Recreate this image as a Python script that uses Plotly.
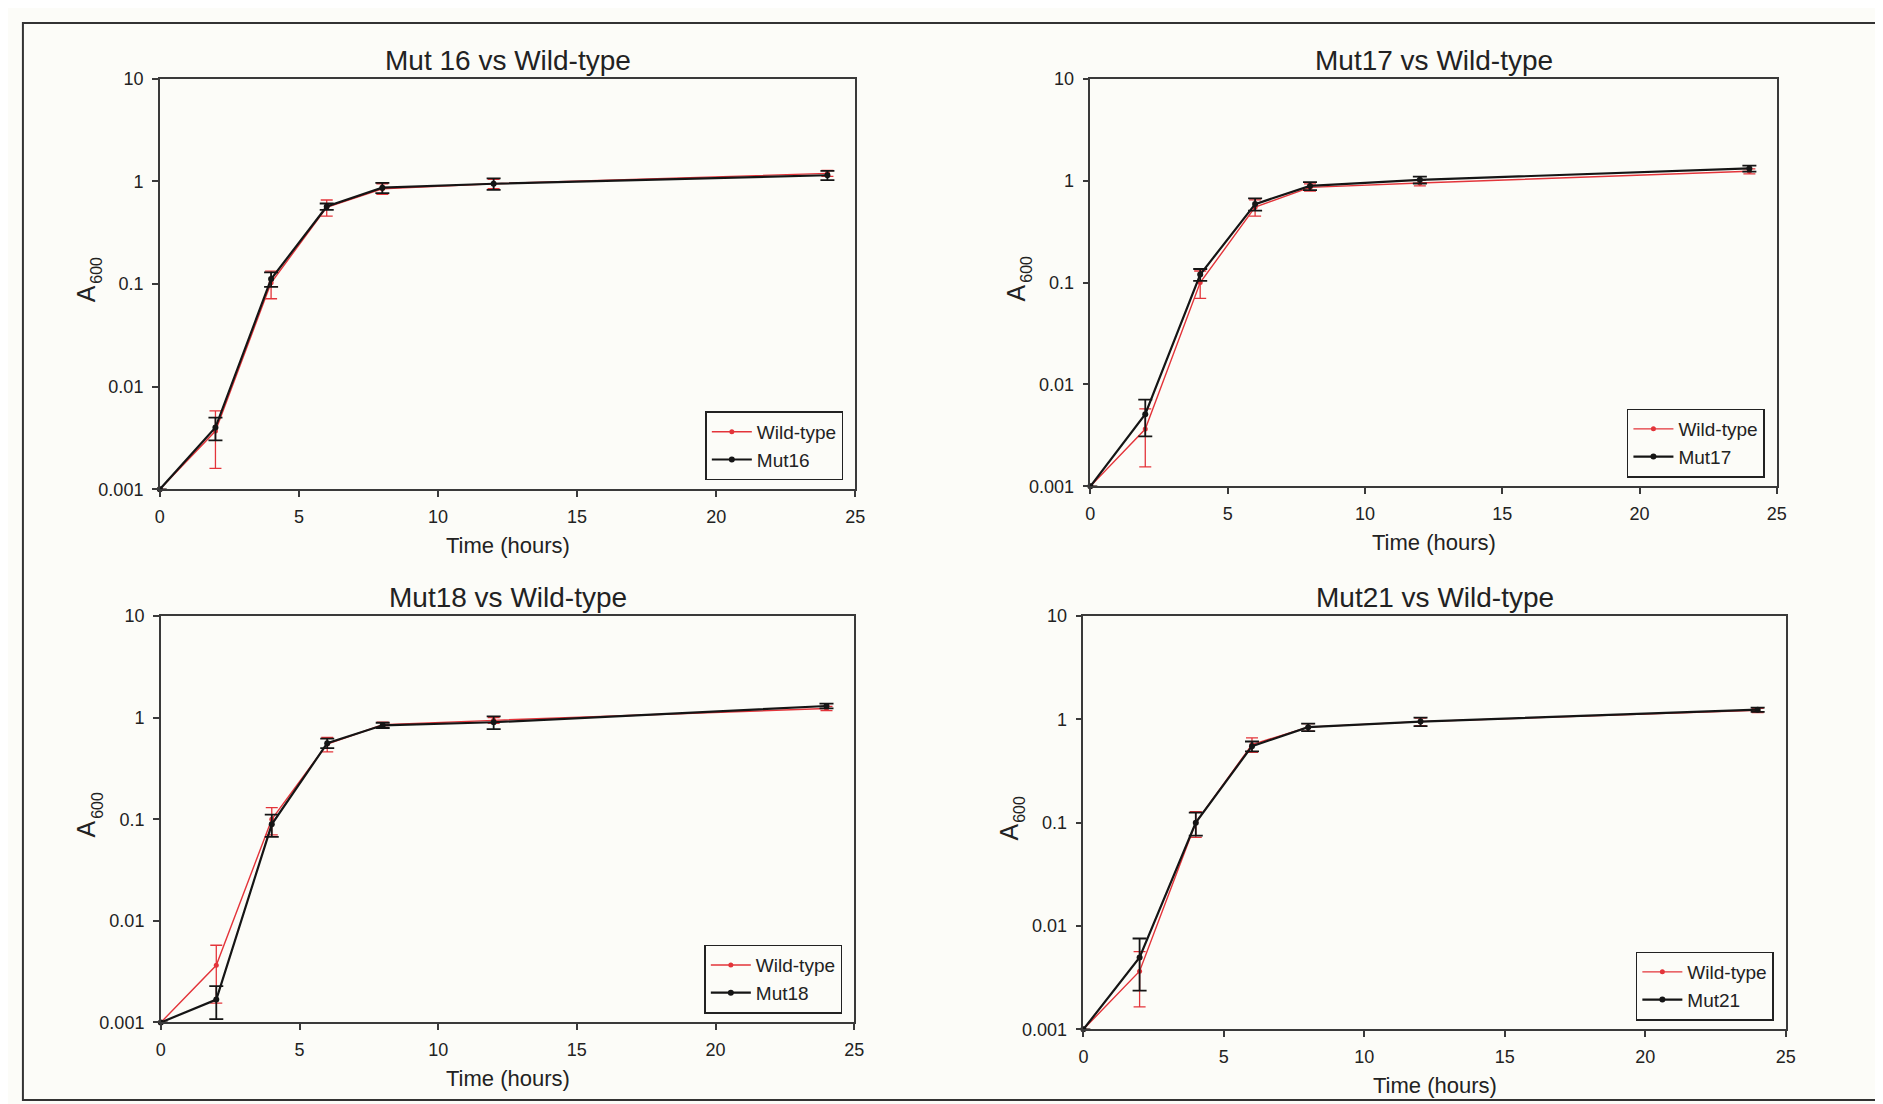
import plotly.graph_objects as go

# ---------------- data ----------------
time_h = [0, 2, 4, 6, 8, 12, 24]

wt16 = [0.001, 0.0037, 0.103, 0.56, 0.85, 0.95, 1.20]
wt16_err = [0, 0.0021, 0.031, 0.10, 0.10, 0.10, 0.08]
mut16 = [0.001, 0.0040, 0.112, 0.57, 0.87, 0.95, 1.15]
mut16_err = [0, 0.0010, 0.018, 0.04, 0.10, 0.12, 0.12]

wt17 = [0.001, 0.00365, 0.100, 0.55, 0.86, 0.95, 1.24]
wt17_err = [0, 0.0021, 0.030, 0.10, 0.07, 0.06, 0.07]
mut17 = [0.001, 0.0051, 0.120, 0.59, 0.89, 1.02, 1.32]
mut17_err = [0, 0.0020, 0.016, 0.08, 0.08, 0.08, 0.09]

wt18 = [0.001, 0.00365, 0.100, 0.55, 0.85, 0.94, 1.23]
wt18_err = [0, 0.0021, 0.030, 0.09, 0.05, 0.06, 0.06]
mut18 = [0.001, 0.00168, 0.089, 0.56, 0.84, 0.90, 1.30]
mut18_err = [0, 0.0006, 0.022, 0.06, 0.05, 0.13, 0.07]

wt21 = [0.001, 0.00365, 0.100, 0.57, 0.84, 0.95, 1.22]
wt21_err = [0, 0.0020, 0.028, 0.09, 0.07, 0.08, 0.06]
mut21 = [0.001, 0.00497, 0.100, 0.55, 0.84, 0.95, 1.24]
mut21_err = [0, 0.0026, 0.025, 0.06, 0.07, 0.09, 0.06]

titles = ["Mut 16 vs Wild-type", "Mut17 vs Wild-type", "Mut18 vs Wild-type", "Mut21 vs Wild-type"]
mut_names = ["Mut16", "Mut17", "Mut18", "Mut21"]
wt_name = "Wild-type"
y_tickvals = [0.001, 0.01, 0.1, 1, 10]
y_ticktext = ["0.001", "0.01", "0.1", "1", "10"]
x_tickvals = [0, 5, 10, 15, 20, 25]

panels = [
    (wt16, wt16_err, mut16, mut16_err),
    (wt17, wt17_err, mut17, mut17_err),
    (wt18, wt18_err, mut18, mut18_err),
    (wt21, wt21_err, mut21, mut21_err),
]

# ---------------- layout geometry (pixels) ----------------
W, H = 1883, 1104
# (left, right, top, bottom) of each plot area in pixels
boxes = [
    (148, 849, 62, 480),
    (1086, 1778, 62, 477),
    (149, 848, 609, 1023),
    (1079, 1787, 609, 1030),
]

RED = "#e3343a"
BLACK = "#151515"
AXC = "#3a3a3a"
BG = "#fcfcf8"
TXT = "#222222"
FONT = "Liberation Sans, Arial, sans-serif"

fig = go.Figure()
layout = dict(
    width=W, height=H,
    margin=dict(l=0, r=0, t=0, b=0),
    paper_bgcolor=BG, plot_bgcolor=BG,
    font=dict(family=FONT, color=TXT, size=18),
    showlegend=True,
)
annotations = []
shapes = []

for i, ((wt, wte, mu, mue), box) in enumerate(zip(panels, boxes)):
    n = i + 1
    xa = "x" if n == 1 else f"x{n}"
    ya = "y" if n == 1 else f"y{n}"
    lg = "legend" if n == 1 else f"legend{n}"
    l, r, t, b = box
    xd = [l / W, r / W]
    yd = [1 - b / H, 1 - t / H]

    fig.add_trace(go.Scatter(
        x=time_h, y=wt, name=wt_name, mode="lines+markers",
        line=dict(color=RED, width=1.4),
        marker=dict(color=RED, size=5),
        error_y=dict(type="data", array=wte, visible=True, color=RED, thickness=1.3, width=6),
        xaxis=xa, yaxis=ya, legend=lg, cliponaxis=False,
    ))
    fig.add_trace(go.Scatter(
        x=time_h, y=mu, name=mut_names[i], mode="lines+markers",
        line=dict(color=BLACK, width=2.2),
        marker=dict(color=BLACK, size=6),
        error_y=dict(type="data", array=mue, visible=True, color=BLACK, thickness=1.8, width=7),
        xaxis=xa, yaxis=ya, legend=lg, cliponaxis=False,
    ))

    xkey = "xaxis" if n == 1 else f"xaxis{n}"
    ykey = "yaxis" if n == 1 else f"yaxis{n}"
    layout[xkey] = dict(
        domain=xd, anchor=ya, range=[0, 25], tickvals=x_tickvals,
        showgrid=False, zeroline=False, showline=True, linecolor=AXC, linewidth=1.6,
        mirror=True, ticks="outside", ticklen=6, tickwidth=1.5, tickcolor=AXC,
        tickfont=dict(size=18, family=FONT, color=TXT), ticklabelstandoff=4,
    )
    layout[ykey] = dict(
        domain=yd, anchor=xa, type="log", range=[-3, 1],
        tickvals=y_tickvals, ticktext=y_ticktext,
        showgrid=False, zeroline=False, showline=True, linecolor=AXC, linewidth=1.6,
        mirror=True, ticks="outside", ticklen=6, tickwidth=1.5, tickcolor=AXC,
        tickfont=dict(size=18, family=FONT, color=TXT), ticklabelstandoff=5,
    )
    layout[lg] = dict(
        x=(r - 12) / W, y=1 - (b - 9) / H, xanchor="right", yanchor="bottom",
        bgcolor=BG, bordercolor=TXT, borderwidth=1.5,
        font=dict(size=19, family=FONT, color=TXT),
        itemwidth=40, tracegroupgap=0,
    )

    # title
    annotations.append(dict(
        text=titles[i], x=(l + r) / 2 / W, y=1 - (t - 19) / H, xref="paper", yref="paper",
        xanchor="center", yanchor="middle", showarrow=False,
        font=dict(size=28, family=FONT, color=TXT),
    ))
    # x axis title
    annotations.append(dict(
        text="Time (hours)", x=(l + r) / 2 / W, y=1 - (b + 57) / H, xref="paper", yref="paper",
        xanchor="center", yanchor="middle", showarrow=False,
        font=dict(size=22, family=FONT, color=TXT),
    ))
    # y axis title: "A" with subscript "600"
    cy = (t + b) / 2
    annotations.append(dict(
        text="A", x=(l - 75) / W, y=1 - (cy + 10) / H, xref="paper", yref="paper",
        xanchor="center", yanchor="middle", showarrow=False, textangle=-90,
        font=dict(size=25, family=FONT, color=TXT),
    ))
    annotations.append(dict(
        text="600", x=(l - 64) / W, y=1 - (cy - 14) / H, xref="paper", yref="paper",
        xanchor="center", yanchor="middle", showarrow=False, textangle=-90,
        font=dict(size=16, family=FONT, color=TXT),
    ))

# outer frame
shapes.append(dict(
    type="rect", xref="paper", yref="paper",
    x0=10 / W, x1=1879 / W, y0=1 - 1102 / H, y1=1 - 5 / H,
    line=dict(color="#333333", width=2), fillcolor="rgba(0,0,0,0)",
))

layout["annotations"] = annotations
layout["shapes"] = shapes
fig.update_layout(**layout)
fig.write_html("out.html")
